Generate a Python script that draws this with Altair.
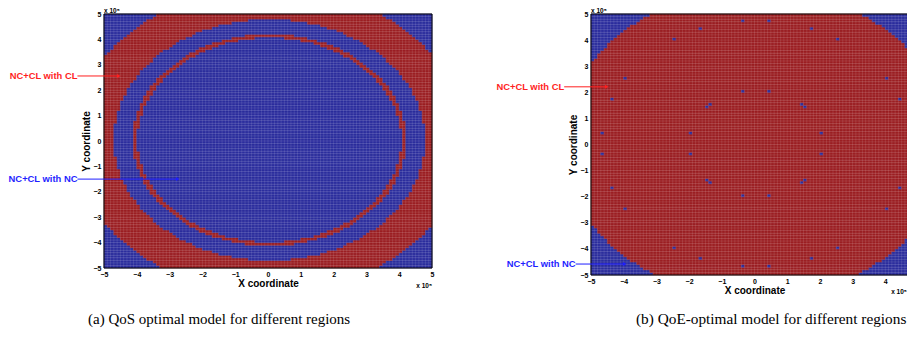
import math
import altair as alt
import pandas as pd

# ---------------- values (units of 1e5) ----------------
AXIS_TICKS = [-5, -4, -3, -2, -1, 0, 1, 2, 3, 4, 5]
RIGHT_X_TICKS = [-5, -4, -3, -2, -1, 0, 1, 2, 3, 4]   # "5" lies beyond the cropped edge
GRID_LO, GRID_HI, GRID_N = -5.0, 5.0, 100
GRID_STEP = (GRID_HI - GRID_LO) / GRID_N

CLASSES = ["NC+CL with NC", "NC+CL with CL"]
CLASS_COLORS = ["#2b2d9d", "#9b1e22"]
ANNOT_COLORS = ["#1f1fff", "#ff1f1f"]

# (a) QoS: concentric region boundaries (radius from centre)
QOS_CENTER = [0.05, 0.05]
QOS_CL_RING = [4.02, 4.17]
QOS_CL_BAND = [4.75, 6.00]

# (b) QoE: CL inside radius, NC outside + isolated NC cells
QOE_CENTER = [0.05, 0.05]
QOE_CL_RADIUS = 5.9
QOE_NC_X = [-0.35, 0.45, -1.65, 1.75, -2.45, 2.55, -3.95, 4.05, -0.35, 0.45,
            -4.35, 4.45, -1.45, -1.35, 1.45, 1.55, -4.65, -1.95, 2.05, 4.75,
            -4.65, -1.95, 2.05, 4.75, -1.45, -1.35, 1.45, 1.55, -4.35, 4.45,
            -0.35, 0.45, -3.95, 4.05, -2.45, 2.55, -1.65, 1.75, -0.35, 0.45]
QOE_NC_Y = [4.75, 4.75, 4.45, 4.45, 4.05, 4.05, 2.55, 2.55, 2.05, 2.05,
            1.75, 1.75, 1.45, 1.55, 1.55, 1.45, 0.45, 0.45, 0.45, 0.45,
            -0.35, -0.35, -0.35, -0.35, -1.35, -1.45, -1.45, -1.35, -1.65, -1.65,
            -1.95, -1.95, -2.45, -2.45, -3.95, -3.95, -4.35, -4.35, -4.65, -4.65]

# annotations: label, text right end x, y, arrow tip x
QOS_ANNOT_LABEL = ["NC+CL with CL", "NC+CL with NC"]
QOS_ANNOT_X = [-5.81, -5.81]
QOS_ANNOT_Y = [2.56, -1.50]
QOS_ANNOT_TIP = [-4.55, -2.75]
QOE_ANNOT_LABEL = ["NC+CL with CL", "NC+CL with NC"]
QOE_ANNOT_X = [-5.82, -5.47]
QOE_ANNOT_Y = [2.21, -4.58]
QOE_ANNOT_TIP = [-4.52, -3.97]
ANNOT_CLASS = [1, 0]

CAPTIONS = ["(a) QoS optimal model for different regions",
            "(b) QoE-optimal model for different regions"]
CAPTION_SIZES = [15, 15.3]
CAPTION_X = [-1.49, 0.51]
EXP_LABEL = "x 10\u2075"
EXP_BOTTOM_X = [5.0, 4.66]

# invisible layout guide per panel: [x_left, x_right, y] (data units)
LEFT_GUIDE = [-7.9116, 5.2287, 5.2165]
RIGHT_GUIDE = [-9.6025, 5.5046, 5.2107]

FONT = "Liberation Sans"
SERIF = "Liberation Serif"


def cell_index(v):
    return int(round((v - GRID_LO) / GRID_STEP - 0.5))


def qos_class(i, j, x, y):
    r = math.hypot(x - QOS_CENTER[0], y - QOS_CENTER[1])
    if QOS_CL_RING[0] <= r < QOS_CL_RING[1] or QOS_CL_BAND[0] <= r < QOS_CL_BAND[1]:
        return CLASSES[1]
    return CLASSES[0]


QOE_DOTS = set((cell_index(a), cell_index(b)) for a, b in zip(QOE_NC_X, QOE_NC_Y))


def qoe_class(i, j, x, y):
    r = math.hypot(x - QOE_CENTER[0], y - QOE_CENTER[1])
    if r > QOE_CL_RADIUS or (i, j) in QOE_DOTS:
        return CLASSES[0]
    return CLASSES[1]


def run_lengths(classify):
    rows = []
    for j in range(GRID_N):
        yc = GRID_LO + (j + 0.5) * GRID_STEP
        cur, start = None, 0
        for i in range(GRID_N + 1):
            c = None
            if i < GRID_N:
                c = classify(i, j, GRID_LO + (i + 0.5) * GRID_STEP, yc)
            if c != cur:
                if cur is not None:
                    rows.append(dict(x0=GRID_LO + start * GRID_STEP,
                                     x1=GRID_LO + i * GRID_STEP,
                                     y0=GRID_LO + j * GRID_STEP,
                                     y1=GRID_LO + (j + 1) * GRID_STEP,
                                     cls=cur))
                cur, start = c, i
    return pd.DataFrame(rows)


GRID_LINES = pd.DataFrame({"g": [GRID_LO + k * GRID_STEP for k in range(GRID_N + 1)],
                           "lo": GRID_LO, "hi": GRID_HI})


def panel(cells, w, h, xticks, labels, ax, ay, tips, caption, cap_size, cap_x, cap_y,
          exp_top_y, exp_bot_x, exp_bot_y, guide):
    xs = alt.Scale(domain=[-5, 5], nice=False, zero=False)
    ys = alt.Scale(domain=[-5, 5], nice=False, zero=False)
    xaxis = alt.Axis(title="X coordinate", values=xticks, format="d",
                     labelOverlap=False, labelPadding=2, titlePadding=1)
    yaxis = alt.Axis(title="Y coordinate", values=AXIS_TICKS, format="d",
                     labelOverlap=False, labelPadding=3, titlePadding=2)

    def X(f):
        return alt.X(f, scale=xs, axis=xaxis)

    def Y(f):
        return alt.Y(f, scale=ys, axis=yaxis)

    cscale = alt.Scale(domain=CLASSES, range=CLASS_COLORS)
    rects = alt.Chart(cells).mark_rect(strokeWidth=0.6).encode(
        x=X("x0:Q"), x2="x1:Q", y=Y("y0:Q"), y2="y1:Q",
        color=alt.Color("cls:N", scale=cscale, legend=None),
        stroke=alt.Stroke("cls:N", scale=cscale, legend=None),
    )
    vgrid = alt.Chart(GRID_LINES).mark_rule(color="white", opacity=0.16, strokeWidth=0.7).encode(
        x=X("g:Q"), y=Y("lo:Q"), y2="hi:Q")
    hgrid = alt.Chart(GRID_LINES).mark_rule(color="white", opacity=0.16, strokeWidth=0.7).encode(
        y=Y("g:Q"), x=X("lo:Q"), x2="hi:Q")
    frame = alt.Chart(GRID_LINES.head(1)).mark_rect(fillOpacity=0, stroke="black",
                                                    strokeWidth=1).encode(
        x=X("lo:Q"), x2="hi:Q", y=Y("lo:Q"), y2="hi:Q")
    guide_rule = alt.Chart(pd.DataFrame({"a": [guide[0]], "b": [guide[1]], "y": [guide[2]]})).mark_rule(
        opacity=0, strokeWidth=1).encode(x=X("a:Q"), x2="b:Q", y=Y("y:Q"))

    ann = pd.DataFrame({"label": labels, "tx": ax, "ty": ay, "tip": tips,
                        "col": [ANNOT_COLORS[c] for c in ANNOT_CLASS]})
    ann_text = alt.Chart(ann).mark_text(align="right", baseline="middle", font=FONT,
                                        fontSize=9.4, fontWeight="bold").encode(
        x=X("tx:Q"), y=Y("ty:Q"), text="label:N", color=alt.Color("col:N", scale=None))
    ann_line = alt.Chart(ann).mark_rule(strokeWidth=1).encode(
        x=X("tx:Q"), x2="tip:Q", y=Y("ty:Q"), color=alt.Color("col:N", scale=None))
    ann_head = alt.Chart(ann).mark_point(shape="triangle-right", filled=True, size=16,
                                         opacity=1).encode(
        x=X("tip:Q"), y=Y("ty:Q"), color=alt.Color("col:N", scale=None))

    exp_top = alt.Chart(pd.DataFrame({"t": [EXP_LABEL], "x": [-5.0], "y": [exp_top_y]})).mark_text(
        align="left", baseline="alphabetic", font=FONT, fontSize=6.5, fontWeight="bold",
        color="black").encode(x=X("x:Q"), y=Y("y:Q"), text="t:N")
    exp_bot = alt.Chart(pd.DataFrame({"t": [EXP_LABEL], "x": [exp_bot_x], "y": [exp_bot_y]})).mark_text(
        align="right", baseline="middle", font=FONT, fontSize=6.5, fontWeight="bold",
        color="black").encode(x=X("x:Q"), y=Y("y:Q"), text="t:N")
    cap = alt.Chart(pd.DataFrame({"t": [caption], "x": [cap_x], "y": [cap_y]})).mark_text(
        align="center", baseline="middle", font=SERIF, fontSize=cap_size, color="black").encode(
        x=X("x:Q"), y=Y("y:Q"), text="t:N")

    return alt.layer(rects, vgrid, hgrid, frame, guide_rule, ann_line, ann_head, ann_text,
                     exp_top, exp_bot, cap).properties(width=w, height=h)


left = panel(run_lengths(qos_class), 328, 254, AXIS_TICKS, QOS_ANNOT_LABEL, QOS_ANNOT_X,
             QOS_ANNOT_Y, QOS_ANNOT_TIP, CAPTIONS[0], CAPTION_SIZES[0], CAPTION_X[0], -7.0,
             5.03, EXP_BOTTOM_X[0], -5.71, LEFT_GUIDE)
right = panel(run_lengths(qoe_class), 327, 261, RIGHT_X_TICKS, QOE_ANNOT_LABEL, QOE_ANNOT_X,
              QOE_ANNOT_Y, QOE_ANNOT_TIP, CAPTIONS[1], CAPTION_SIZES[1], CAPTION_X[1], -6.69,
              5.03, EXP_BOTTOM_X[1], -5.67, RIGHT_GUIDE)

# the reference figure is cropped at its right edge: a negative right padding
# crops the SVG in the same way (content beyond the page width is cut off)
chart = alt.hconcat(left, right, spacing=0).properties(
    padding={"left": 0, "top": 0, "right": -28, "bottom": 0},
    background="white",
).configure_view(stroke=None).configure_axis(
    ticks=False, domain=False, grid=False, labelFlush=False, labelOverlap=False,
    labelFont=FONT, labelFontSize=7, labelFontWeight="bold", labelColor="black",
    titleFont=FONT, titleFontSize=10, titleFontWeight="bold", titleColor="black",
)

chart.save("out.html", embed_options={"renderer": "svg", "actions": False})
